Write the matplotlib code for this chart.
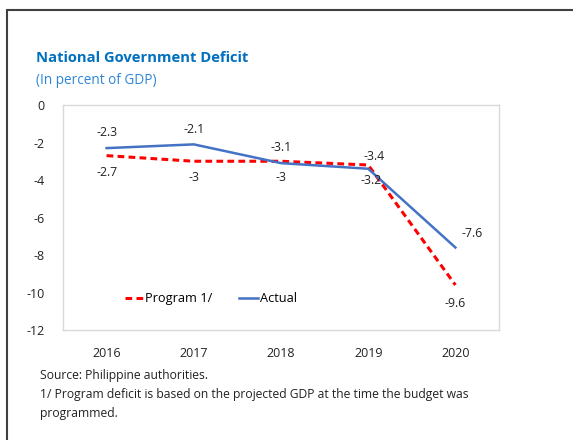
import matplotlib
matplotlib.use("Agg")
import matplotlib.pyplot as plt
from matplotlib.patches import Rectangle

plt.rcParams['font.family'] = ['Open Sans', 'DejaVu Sans']

years = ["2016", "2017", "2018", "2019", "2020"]
program = [-2.7, -3, -3, -3.2, -9.6]
actual = [-2.3, -2.1, -3.1, -3.4, -7.6]
program_labels = ["-2.7", "-3", "-3", "-3.2", "-9.6"]
actual_labels = ["-2.3", "-2.1", "-3.1", "-3.4", "-7.6"]

W, H = 573, 440
fig = plt.figure(figsize=(W/100, H/100), dpi=100)
fig.patch.set_facecolor("white")

# outer frame
fig.add_artist(Rectangle((7/W, -0.1), 1.2, 1 - 10/H + 0.1, transform=fig.transFigure,
                         fill=False, edgecolor="#404040", linewidth=1.5))

ax = fig.add_axes([63/W, 1 - 330/H, (499-63)/W, (330-105)/H])
x = list(range(len(years)))
ax.plot(x, program, color="#FF0000", linestyle=(0, (2.2, 1.4)), linewidth=2.2, label="Program 1/")
ax.plot(x, actual, color="#4472C4", linewidth=1.8, label="Actual")

ax.set_xlim(-0.5, 4.5)
ax.set_ylim(-12, 0)
ax.set_yticks([0, -2, -4, -6, -8, -10, -12])
ax.set_yticklabels(["0", "-2", "-4", "-6", "-8", "-10", "-12"])
ax.set_xticks(x)
ax.set_xticklabels(years)
ax.tick_params(axis="both", length=0, labelsize=9, colors="#222222")
ax.tick_params(axis="y", pad=13)
ax.tick_params(axis="x", pad=12)
for s in ax.spines.values():
    s.set_color("#D9D9D9")
    s.set_linewidth(1)

fs = 8.8
for i, (v, t) in enumerate(zip(actual, actual_labels)):
    if i == 4:
        off = (12, 10)
    elif i == 3:
        off = (4, 9)
    else:
        off = (0, 11)
    ax.annotate(t, (i, v), xytext=off, textcoords="offset points",
                ha="center", va="center", fontsize=fs, color="#222222")
for i, (v, t) in enumerate(zip(program, program_labels)):
    if i == 3:
        off = (2, -11)
    elif i == 4:
        off = (0, -13)
    else:
        off = (0, -12)
    ax.annotate(t, (i, v), xytext=off, textcoords="offset points",
                ha="center", va="center", fontsize=fs, color="#222222")

leg = ax.legend(loc="lower left", bbox_to_anchor=(0.115, 0.06), ncol=2, frameon=False,
                fontsize=9.2, handlelength=1.5, handletextpad=0.1, columnspacing=2.1)

fig.text(36/W, 1 - 58/H, "National Government Deficit", fontsize=10.6, fontweight="bold",
         color="#0070C0", va="center", ha="left")
fig.text(36/W, 1 - 80/H, "(In percent of GDP)", fontsize=9.8, color="#2E86D6",
         va="center", ha="left")

fs2 = 8.7
fig.text(40/W, 1 - 375/H, "Source: Philippine authorities.", fontsize=fs2, color="#222222",
         va="center", ha="left")
fig.text(40/W, 1 - 394/H, "1/ Program deficit is based on the projected GDP at the time the budget was",
         fontsize=fs2, color="#222222", va="center", ha="left")
fig.text(40/W, 1 - 413/H, "programmed.", fontsize=fs2, color="#222222", va="center", ha="left")

fig.savefig("out.png", dpi=100)
